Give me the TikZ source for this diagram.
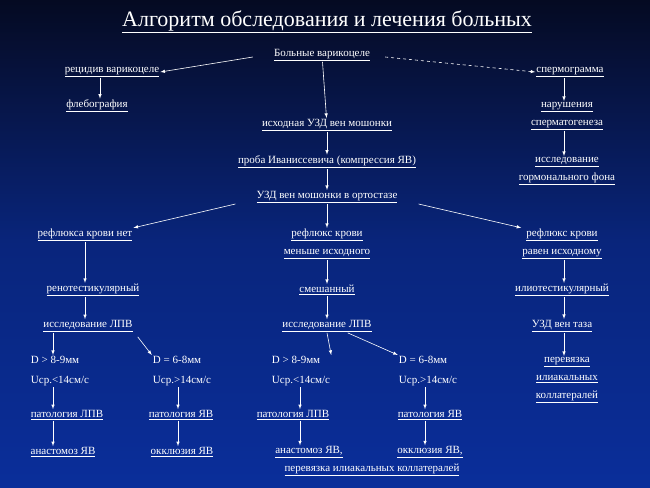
\documentclass[tikz,border=0pt]{standalone}
\usepackage{fontspec}
\setmainfont{Liberation Serif}
\usetikzlibrary{arrows, positioning}
\definecolor{mtop}{HTML}{050A22}
\definecolor{mbot}{HTML}{0A2E9A}
\newcommand{\uln}[1]{\underline{#1}}
\tikzstyle{stage} = [text = white, align = center, inner sep = 1pt, font = \fontsize{11}{18}\selectfont]
\tikzstyle{measure} = [text = white, align = left, inner sep = 1pt, font = \fontsize{11}{20}\selectfont]
\tikzstyle{cable} = [white, semithick, ->, >=latex]

\begin{document}
\begin{tikzpicture}[x=1pt, y=-1pt]
  \shade[top color = mtop, bottom color = mbot, middle color = mbot!75!mtop] (0,0) rectangle (650,487);
  \node (title) [text = white, font = \fontsize{22}{24}\selectfont] at (327,22) {\uln{Алгоритм обследования и лечения больных}};
  \node (start) [stage] at (322,55) {\uln{Больные варикоцеле}};
  % columns of the vertical arrows
  \coordinate (cA) at (100,0);
  \coordinate (cB) at (85,0);
  \coordinate (cR) at (564,0);
  \coordinate (c1) at (53,0);
  \coordinate (c2) at (178,0);
  \coordinate (c3) at (300,0);
  \coordinate (c4) at (425,0);
  % left branch
  \node (recid) [stage] at (112,72) {\uln{рецидив варикоцеле}};
  \node (phleb) [stage] at (97,106) {\uln{флебография}};
  % right branch
  \node (sperm) [stage] at (570,72) {\uln{спермограмма}};
  \node (viol) [stage] at (567,116) {\uln{нарушения}\\\uln{сперматогенеза}};
  \node (horm) [stage] at (567,171) {\uln{исследование}\\\uln{гормонального фона}};
  % centre
  \node (uzd) [stage] at (327,125) {\uln{исходная УЗД вен мошонки}};
  \node (ivan) [stage] at (327,162) {\uln{проба Иваниссевича (компрессия ЯВ)}};
  \node (orto) [stage] at (327,197) {\uln{УЗД вен мошонки  в ортостазе}};
  \node (refno) [stage] at (85,235) {\uln{рефлюкса крови нет}};
  \node (refless) [stage] at (327,244) {\uln{рефлюкс крови}\\\uln{меньше исходного}};
  \node (refeq) [stage] at (562,244) {\uln{рефлюкс крови}\\\uln{равен  исходному}};
  \node (reno) [stage] at (93,290) {\uln{ренотестикулярный}};
  \node (mixed) [stage] at (327,290) {\uln{смешанный}};
  \node (ilio) [stage] at (562,290) {\uln{илиотестикулярный}};
  \node (lpv1) [stage] at (88,326) {\uln{исследование ЛПВ}};
  \node (lpv2) [stage] at (327,326) {\uln{исследование ЛПВ}};
  \node (pelv) [stage] at (562,326) {\uln{УЗД вен таза}};
  \node (lig) [stage] at (567,380) {\uln{перевязка}\\\uln{илиакальных}\\\uln{коллатералей}};
  % measurements
  \node (m1) [measure] at (60,371) {D > 8-9мм\\Uср.<14см/с};
  \node (m2) [measure] at (182,371) {D = 6-8мм\\Uср.>14см/с};
  \node (m3) [measure] at (301,371) {D > 8-9мм\\Uср.<14см/с};
  \node (m4) [measure] at (428,371) {D = 6-8мм\\Uср.>14см/с};
  \node (p1) [stage] at (67,415) {\uln{патология ЛПВ}};
  \node (p2) [stage] at (181,415) {\uln{патология ЯВ}};
  \node (p3) [stage] at (293,415) {\uln{патология ЛПВ}};
  \node (p4) [stage] at (430,415) {\uln{патология ЯВ}};
  \node (a1) [stage] at (63,452) {\uln{анастомоз  ЯВ}};
  \node (a2) [stage] at (182,452) {\uln{окклюзия ЯВ}};
  \node (a3) [stage] at (309,452) {\uln{анастомоз ЯВ,}};
  \node (a4) [stage] at (430,452) {\uln{окклюзия ЯВ,}};
  \node (a5) [stage] at (372,470) {\uln{перевязка илиакальных коллатералей}};
  \draw [cable] (start.west) ++(-20,2) -- (recid.east);
  \draw [cable, dashed] (start.east) ++(14,2) -- (sperm.west);
  \draw [cable] (start) -- (uzd);
  \draw [cable] (recid.south -| cA) -- (phleb.north -| cA);
  \draw [cable] (sperm.south -| cR) -- (viol.north -| cR);
  \draw [cable] (viol.south -| cR) -- (horm.north -| cR);
  \draw [cable] (uzd) -- (ivan);
  \draw [cable] (ivan) -- (orto);
  \draw [cable] (orto.south west) ++(-20,0) -- (refno.north east);
  \draw [cable] (orto) -- (refless);
  \draw [cable] (orto.south east) ++(20,0) -- (refeq.north west);
  \draw [cable] (refno.south -| cB) -- (reno.north -| cB);
  \draw [cable] (refless) -- (mixed);
  \draw [cable] (refeq.south -| cR) -- (ilio.north -| cR);
  \draw [cable] (reno.south -| cB) -- (lpv1.north -| cB);
  \draw [cable] (mixed) -- (lpv2);
  \draw [cable] (ilio.south -| cR) -- (pelv.north -| cR);
  \draw [cable] (pelv.south -| cR) -- (lig.north -| cR);
  \draw [cable] (lpv1.south -| c1) -- (m1.north -| c1);
  \draw [cable] (lpv1.south east) ++(4,4) -- (m2.north west);
  \draw [cable] (lpv2.south) -- (m3.north east);
  \draw [cable] (lpv2.south east) ++(-25,0) -- (m4.north west);
  \draw [cable] (m1.south -| c1) -- (p1.north -| c1);
  \draw [cable] (m2.south -| c2) -- (p2.north -| c2);
  \draw [cable] (m3.south -| c3) -- (p3.north -| c3);
  \draw [cable] (m4.south -| c4) -- (p4.north -| c4);
  \draw [cable] (p1.south -| c1) -- (a1.north -| c1);
  \draw [cable] (p2.south -| c2) -- (a2.north -| c2);
  \draw [cable] (p3.south -| c3) -- (a3.north -| c3);
  \draw [cable] (p4.south -| c4) -- (a4.north -| c4);
\end{tikzpicture}
\end{document}
